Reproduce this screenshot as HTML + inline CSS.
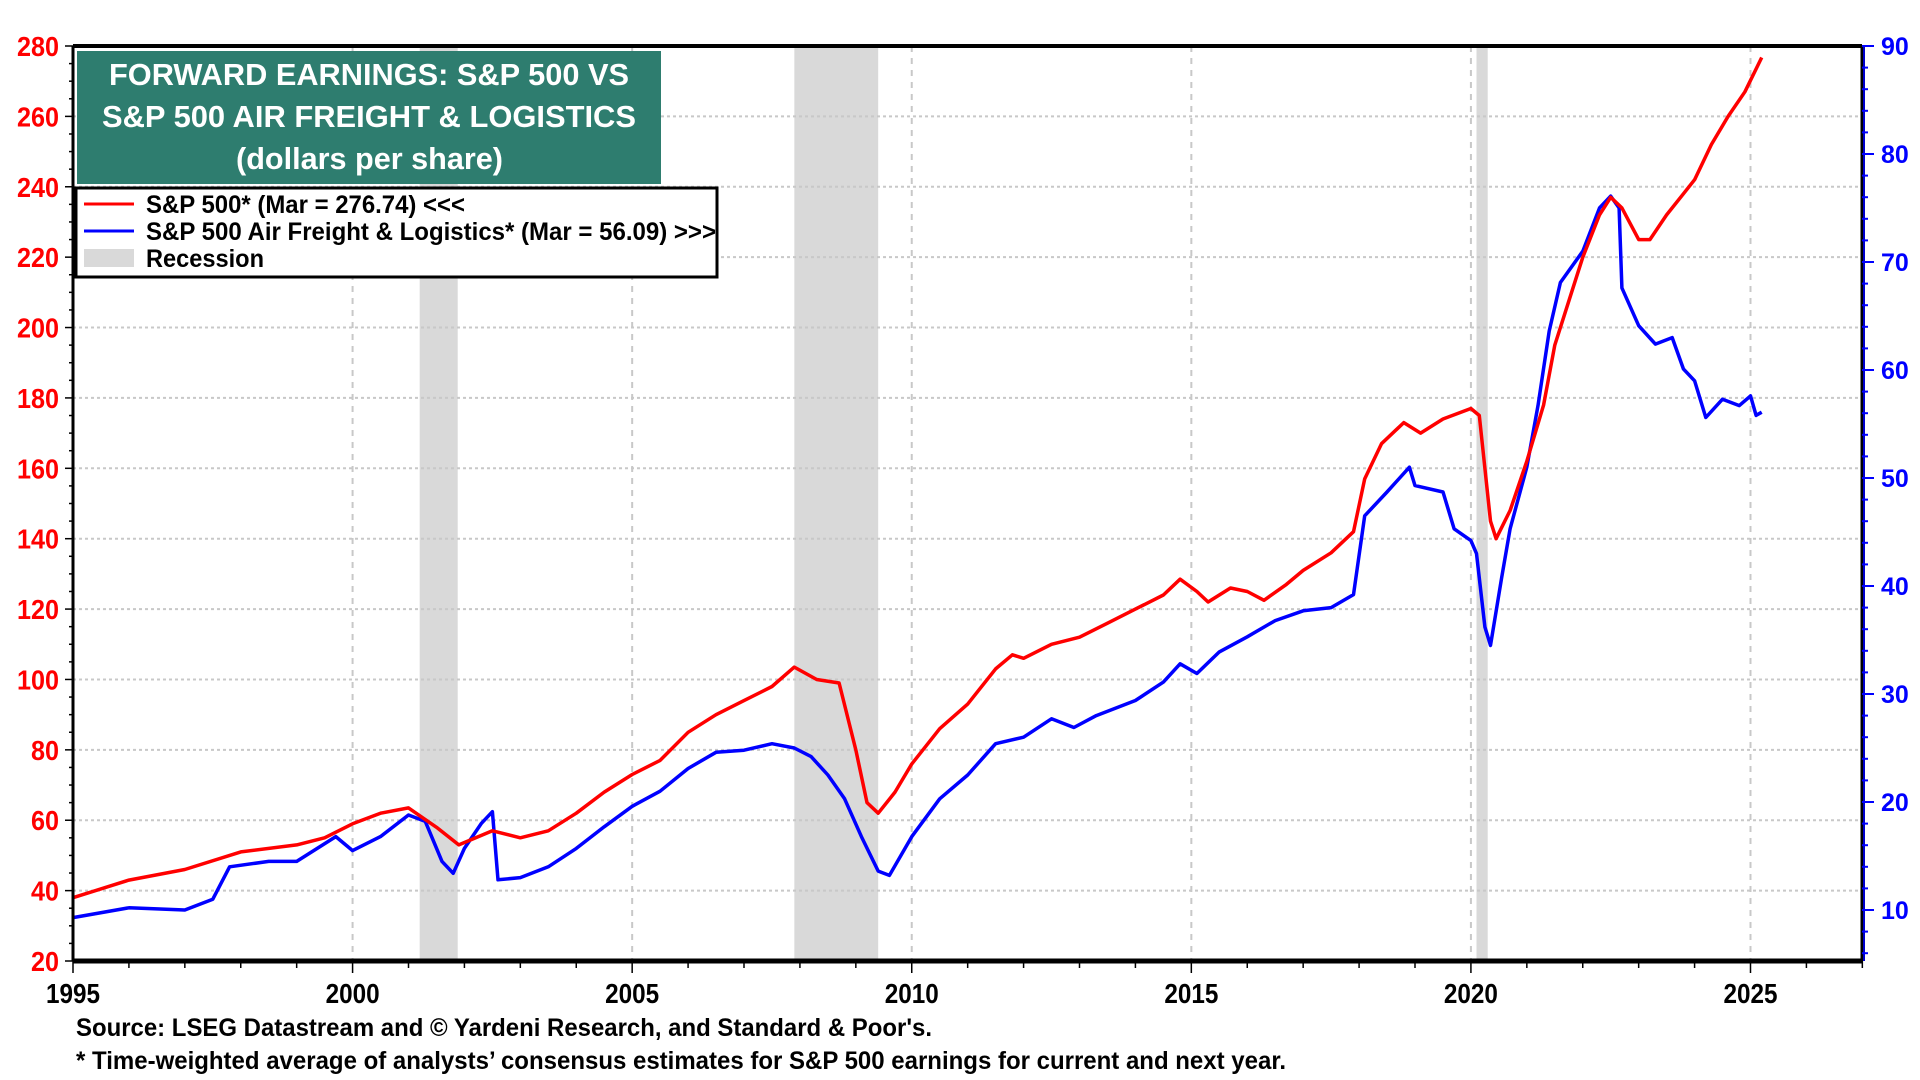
<!DOCTYPE html>
<html><head><meta charset="utf-8"><style>
html,body{margin:0;padding:0;background:#fff;width:1920px;height:1080px;overflow:hidden}
svg{display:block}
text{font-family:"Liberation Sans Narrow","Liberation Sans",sans-serif;font-weight:bold}
</style></head><body>
<svg id="chart" width="1920" height="1080" xmlns="http://www.w3.org/2000/svg"></svg>
<script>
const spxDates=[1995,1996,1997,1998,1999,1999.5,2000,2000.5,2001,2001.5,2001.9,2002.5,2003,2003.5,2004,2004.5,2005,2005.5,2006,2006.5,2007,2007.5,2007.9,2008.3,2008.7,2009.0,2009.2,2009.4,2009.7,2010,2010.5,2011,2011.5,2011.8,2012,2012.5,2013,2013.5,2014,2014.5,2014.8,2015.1,2015.3,2015.7,2016.0,2016.3,2016.7,2017,2017.5,2017.9,2018.1,2018.4,2018.8,2019.1,2019.5,2020.0,2020.15,2020.35,2020.45,2020.7,2021,2021.3,2021.5,2021.8,2022.0,2022.3,2022.5,2022.7,2023.0,2023.2,2023.5,2023.8,2024.0,2024.3,2024.6,2024.9,2025.2];
const spxValues=[38,43,46,51,53,55,59,62,63.5,58,53,57,55,57,62,68,73,77,85,90,94,98,103.5,100,99,80,65,62,68,76,86,93,103,107,106,110,112,116,120,124,128.5,125,122,126,125,122.5,127,131,136,142,157,167,173,170,174,177,175,145,140,148,162,178,195,210,220,232,237,234,225,225,232,238,242,252,260,267,276.74];
const afDates=[1995,1996,1997,1997.5,1997.8,1998.5,1999,1999.7,2000.0,2000.5,2001.0,2001.3,2001.6,2001.8,2002.0,2002.3,2002.5,2002.6,2003.0,2003.5,2004,2004.5,2005,2005.5,2006,2006.5,2007,2007.5,2007.9,2008.2,2008.5,2008.8,2009.1,2009.4,2009.6,2010,2010.5,2011,2011.5,2012,2012.5,2012.9,2013.3,2014,2014.5,2014.8,2015.1,2015.5,2016,2016.5,2017,2017.5,2017.9,2018.1,2018.5,2018.9,2019.0,2019.5,2019.7,2020.0,2020.1,2020.25,2020.35,2020.55,2020.7,2021.0,2021.2,2021.4,2021.6,2022.0,2022.3,2022.5,2022.65,2022.7,2023.0,2023.3,2023.6,2023.8,2024.0,2024.2,2024.5,2024.8,2025.0,2025.1,2025.2];
const afValues=[9.3,10.2,10,11,14,14.5,14.5,16.8,15.5,16.8,18.8,18.2,14.5,13.4,15.7,18,19.1,12.8,13,14,15.7,17.7,19.6,21,23.1,24.6,24.8,25.4,25,24.2,22.5,20.3,16.8,13.6,13.2,16.8,20.3,22.5,25.4,26,27.7,26.9,28,29.4,31.1,32.8,31.9,33.9,35.3,36.8,37.7,38,39.2,46.5,48.7,51,49.3,48.7,45.3,44.2,43,36.2,34.5,40.8,45.3,51,56.7,63.6,68.1,71,75,76.1,75,67.6,64.1,62.4,63,60.1,59,55.6,57.3,56.7,57.6,55.8,56.09];
const recessions=[[2001.2,2001.88],[2007.9,2009.4],[2020.1,2020.3]];
const leftTicks=[20,40,60,80,100,120,140,160,180,200,220,240,260,280];
const rightTicks=[10,20,30,40,50,60,70,80,90];
const yearTicks=[1995,2000,2005,2010,2015,2020,2025];

const L=73,R=1862,T=46,B=961;
const X=d=>L+(d-1995)*(1751-73.5)/30;
const YL=v=>B-(v-20)*(B-T)/260;
const YR=v=>T+(90-v)*10.8;
const svg=document.getElementById('chart');
const NS='http://www.w3.org/2000/svg';
function mk(tag,at,parent){const e=document.createElementNS(NS,tag);for(const k in at)e.setAttribute(k,at[k]);(parent||svg).appendChild(e);return e;}

recessions.forEach(r=>{const e=mk('rect',{x:X(r[0]),y:T,width:X(r[1])-X(r[0]),height:B-T,fill:'#d9d9d9'});

});
leftTicks.forEach(v=>{if(v>20&&v<280){const e=mk('line',{x1:L,x2:R,y1:YL(v),y2:YL(v),stroke:'#c8c8c8','stroke-width':2,'stroke-dasharray':'3,3'});

}});
yearTicks.forEach(y=>{if(y>1995){const e=mk('line',{x1:X(y),x2:X(y),y1:T,y2:B,stroke:'#c8c8c8','stroke-width':2,'stroke-dasharray':'6,6'});

}});
function pts(d,v,f){return d.map((x,i)=>X(x).toFixed(1)+','+f(v[i]).toFixed(1)).join(' ');}
const s1=mk('polyline',{points:pts(afDates,afValues,YR),fill:'none',stroke:'#0000ff','stroke-width':3.5,'stroke-linejoin':'round'});


const s2=mk('polyline',{points:pts(spxDates,spxValues,YL),fill:'none',stroke:'#ff0000','stroke-width':3.5,'stroke-linejoin':'round'});


mk('line',{x1:L,x2:R,y1:T,y2:T,stroke:'#000','stroke-width':4});
mk('line',{x1:L,x2:R,y1:B,y2:B,stroke:'#000','stroke-width':5});
mk('line',{x1:L,x2:L,y1:T,y2:B,stroke:'#000','stroke-width':3});
mk('line',{x1:R,x2:R,y1:T,y2:B,stroke:'#000','stroke-width':3});
mk('line',{x1:R+2,x2:R+2,y1:T,y2:B,stroke:'#0000cc','stroke-width':2});
for(let v=20;v<=280;v+=5){mk('line',{x1:L-(v%20==0?8:4),x2:L,y1:YL(v),y2:YL(v),stroke:'#000','stroke-width':1.5});}
leftTicks.forEach(v=>{const t=mk('text',{x:L-14,y:YL(v)+10,'text-anchor':'end','font-size':28,fill:'#ff0000',textLength:(String(v).length*14),lengthAdjust:'spacingAndGlyphs'});t.textContent=v;

});
for(let v=6;v<=90;v+=2){mk('line',{x1:R,x2:R+(v%10==0?12:6),y1:YR(v),y2:YR(v),stroke:'#0000ff','stroke-width':2});}
rightTicks.forEach(v=>{const t=mk('text',{x:R+19,y:YR(v)+9,'font-size':25,fill:'#0000ff',style:'font-family:"Liberation Sans",sans-serif'});t.textContent=v;

});
for(let y=1995;y<=2027;y++){mk('line',{x1:X(y),x2:X(y),y1:B,y2:B+(y%5==0?12:7),stroke:'#000','stroke-width':1.5});}
yearTicks.forEach(y=>{const t=mk('text',{x:X(y),y:B+42,'text-anchor':'middle','font-size':28,fill:'#000',textLength:54,lengthAdjust:'spacingAndGlyphs'});t.textContent=y;

});
</script>
<svg style="position:absolute;left:0;top:0" width="1920" height="1080">
<g>
<rect x="77" y="51" width="584" height="133" fill="#2e7d6f"/>
<text x="109" y="85" font-size="31" fill="#fff" textLength="520" lengthAdjust="spacingAndGlyphs">FORWARD EARNINGS: S&amp;P 500 VS</text>
<text x="102" y="127" font-size="31" fill="#fff" textLength="534" lengthAdjust="spacingAndGlyphs">S&amp;P 500 AIR FREIGHT &amp; LOGISTICS</text>
<text x="236" y="169" font-size="31" fill="#fff" textLength="267" lengthAdjust="spacingAndGlyphs">(dollars per share)</text>
</g>
<g>
<rect x="76" y="188" width="641" height="89" fill="#fff" stroke="#000" stroke-width="3"/>
<line x1="84" y1="204" x2="134" y2="204" stroke="#ff0000" stroke-width="3"/>
<text x="146" y="213" font-size="25" fill="#000" textLength="319" lengthAdjust="spacingAndGlyphs">S&amp;P 500* (Mar = 276.74) &lt;&lt;&lt;</text>
<line x1="84" y1="231" x2="134" y2="231" stroke="#0000ff" stroke-width="3"/>
<text x="146" y="240" font-size="25" fill="#000" textLength="570" lengthAdjust="spacingAndGlyphs">S&amp;P 500 Air Freight &amp; Logistics* (Mar = 56.09) &gt;&gt;&gt;</text>
<rect x="84" y="249" width="50" height="18" fill="#d9d9d9"/>
<text x="146" y="267" font-size="25" fill="#000" textLength="118" lengthAdjust="spacingAndGlyphs">Recession</text>
</g>
<text x="76" y="1036" font-size="25" fill="#000" textLength="856" lengthAdjust="spacingAndGlyphs">Source: LSEG Datastream and © Yardeni Research, and Standard &amp; Poor's.</text>
<text x="76" y="1069" font-size="25" fill="#000" textLength="1210" lengthAdjust="spacingAndGlyphs">* Time-weighted average of analysts’ consensus estimates for S&amp;P 500 earnings for current and next year.</text>
</svg>
</body></html>
